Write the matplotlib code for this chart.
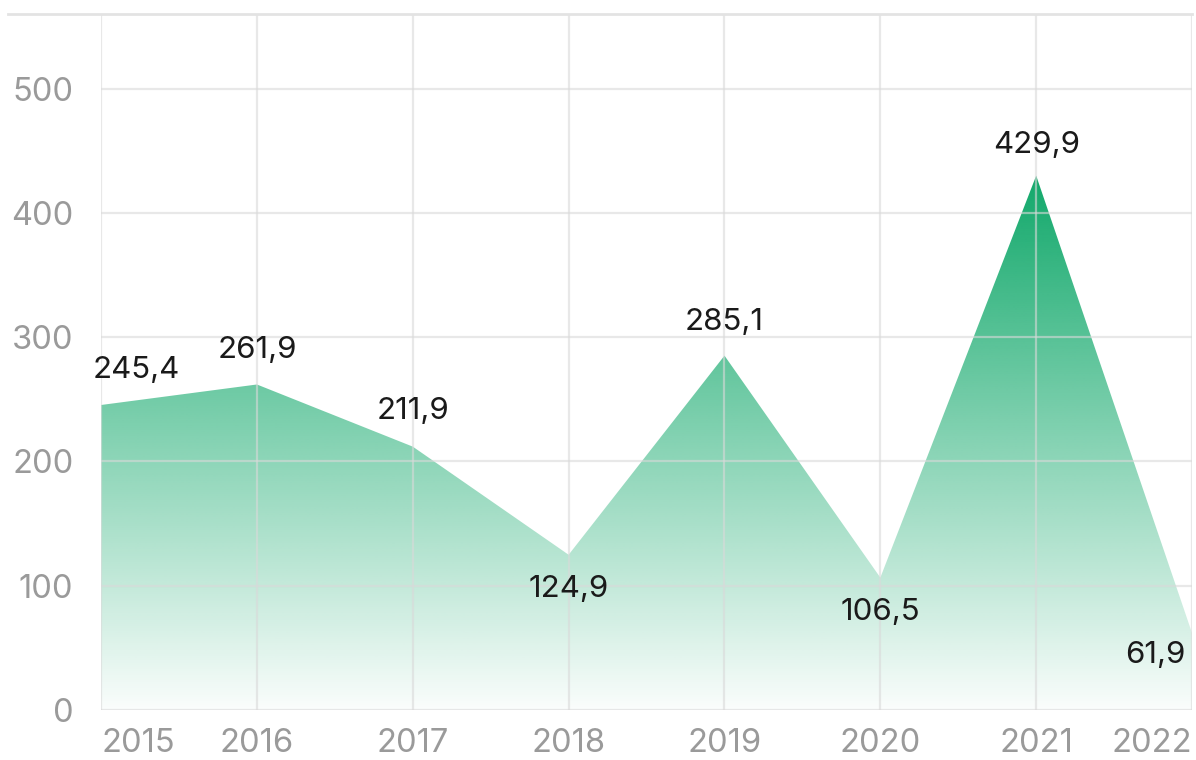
import numpy as np
import matplotlib.pyplot as plt
from matplotlib.lines import Line2D
from matplotlib.patches import Polygon

plt.rcParams['font.family'] = ['Inter', 'DejaVu Sans']

years = [2015, 2016, 2017, 2018, 2019, 2020, 2021, 2022]
values = [245.4, 261.9, 211.9, 124.9, 285.1, 106.5, 429.9, 61.9]
labels = ['245,4', '261,9', '211,9', '124,9', '285,1', '106,5', '429,9', '61,9']
# label placement: offset in points, horizontal alignment
offsets = [(-6, 25, 'left'), (0, 25, 'center'), (0, 26, 'center'), (0, -25, 'center'),
           (0, 24, 'center'), (0, -25, 'center'), (0, 22, 'center'), (-5, -16, 'right')]
yticks = [0, 100, 200, 300, 400, 500]

green = np.array([16, 168, 106]) / 255

fig = plt.figure(figsize=(11.96, 7.6), dpi=100)
ax = fig.add_axes([0.0845, 0.0658, 0.9122, 0.9158])
ax.set_xlim(2015, 2022)
ax.set_ylim(0, 560)

# gradient fill clipped to the area under the line
top = max(values)
h = 400
grad = np.zeros((h, 2, 4))
grad[..., :3] = green
alpha = np.linspace(1.0, 0.02, h)
grad[..., 3] = alpha[:, None]
img = ax.imshow(grad, extent=[years[0], years[-1], 0, top], aspect='auto',
                origin='upper', zorder=1, interpolation='bilinear')
poly = Polygon([(years[0], 0)] + list(zip(years, values)) + [(years[-1], 0)],
               closed=True, facecolor='none', edgecolor='none')
ax.add_patch(poly)
img.set_clip_path(poly)

ax.set_xticks(years)
ax.set_yticks(yticks)
ax.set_xticklabels([str(y) for y in years])
ax.grid(True, color='#d9d9d9', linewidth=1.6, alpha=0.6, zorder=2)
ax.set_axisbelow(False)
for s in ax.spines.values():
    s.set_visible(False)
ax.tick_params(length=0, labelsize=23.5, labelcolor='#9a9a9a')
ax.tick_params(axis='y', pad=20)
ax.tick_params(axis='x', pad=13)
xl = ax.get_xticklabels()
xl[0].set_horizontalalignment('left')
xl[-1].set_horizontalalignment('right')

for x, v, lab, (dx, dy, ha) in zip(years, values, labels, offsets):
    ax.annotate(lab, (x, v), xytext=(dx, dy), textcoords='offset points',
                ha=ha, va='center', fontsize=22.5, color='#1a1a1a', zorder=5)

# top border line
fig.add_artist(Line2D([0.007, 0.9967], [0.9816, 0.9816], color='#e3e3e3', linewidth=2))

fig.savefig('out.png', dpi=100, facecolor='white')
